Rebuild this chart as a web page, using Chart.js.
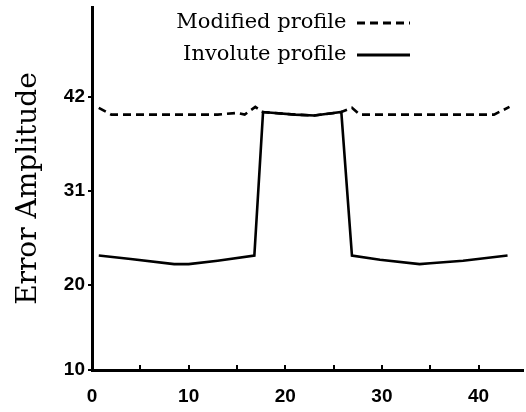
<!DOCTYPE html>
<html><head><meta charset="utf-8">
<script src="https://cdn.jsdelivr.net/npm/chart.js@4.4.1/dist/chart.umd.min.js"></script>
<style>html,body{margin:0;padding:0;background:#fff}canvas{display:block}</style>
</head><body>
<canvas id="c" width="526" height="412"></canvas>
<script>
// ---- data ----
const seriesNames = ['Modified profile', 'Involute profile'];
const modifiedX = [0.7, 2, 5, 9, 13, 15, 15.8, 16.9, 17.7, 21, 23, 25.8, 26.9, 27.7, 31, 35, 39, 41.6, 43.2];
const modifiedY = [40.7, 39.9, 39.9, 39.9, 39.9, 40.1, 39.9, 40.8, 40.2, 39.9, 39.8, 40.2, 40.7, 39.9, 39.9, 39.9, 39.9, 39.9, 40.8];
const involuteX = [0.7, 4, 8.5, 10, 13, 16.8, 17.7, 21, 23, 25.8, 26.9, 29.8, 33.9, 35, 38.4, 43];
const involuteY = [23.4, 23.0, 22.4, 22.4, 22.8, 23.4, 40.2, 39.9, 39.8, 40.2, 23.4, 22.9, 22.4, 22.5, 22.8, 23.4];
const xTickValues = [0, 5, 10, 15, 20, 25, 30, 35, 40];
const xTickLabels = ['0', '', '10', '', '20', '', '30', '', '40'];
const yTickValues = [10, 20, 31, 42];
const yTickLabels = ['10', '20', '31', '42'];
const yTitle = 'Error Amplitude';

// ---- layout / style ----
const LEGEND_TOP = 1.5;
const LEGEND_BOX_RIGHT = 410;
const tickFont = { family: 'Liberation Sans', size: 19, weight: 'bold' };

const legendPlace = {
  id: 'legendPlace',
  afterLayout(chart) {
    const lg = chart.legend;
    if (!lg) return;
    const pad = lg.options.labels.padding;
    const dx = LEGEND_BOX_RIGHT - (lg.left + lg.width - pad);
    lg.left += dx; lg.right = lg.left + lg.width;
    lg.top = LEGEND_TOP; lg.bottom = lg.top + lg.height;
  }
};

const toPoints = (xs, ys) => xs.map((x, i) => ({ x: x, y: ys[i] }));

new Chart(document.getElementById('c'), {
  type: 'line',
  data: {
    datasets: [
      { label: seriesNames[0], data: toPoints(modifiedX, modifiedY), borderColor: '#000', backgroundColor: '#000',
        borderWidth: 2.6, borderDash: [8, 5], pointRadius: 0, tension: 0, fill: false },
      { label: seriesNames[1], data: toPoints(involuteX, involuteY), borderColor: '#000', backgroundColor: '#000',
        borderWidth: 2.6, pointRadius: 0, tension: 0, fill: false }
    ]
  },
  options: {
    responsive: false,
    animation: false,
    events: [],
    layout: { padding: { top: 7, right: 3, bottom: 0, left: 0 } },
    plugins: {
      tooltip: { enabled: false },
      legend: {
        position: 'chartArea',
        align: 'start',
        rtl: true,
        textDirection: 'ltr',
        labels: {
          usePointStyle: true, pointStyle: 'line', pointStyleWidth: 53,
          padding: 11, color: '#000',
          font: { family: 'DejaVu Serif', size: 21 },
          generateLabels: chart => Chart.defaults.plugins.legend.labels.generateLabels(chart).map(item => {
            const ds = chart.data.datasets[item.datasetIndex];
            item.lineDash = ds.borderDash || [];
            item.lineWidth = 3;
            item.strokeStyle = ds.borderColor;
            return item;
          })
        }
      }
    },
    scales: {
      x: {
        type: 'linear', min: 0, max: 44.6,
        afterBuildTicks: s => { s.ticks = xTickValues.map(v => ({ value: v })); },
        afterFit: s => { s.height = 42; },
        ticks: { autoSkip: false, maxRotation: 0, minRotation: 0, padding: 20, color: '#000', font: tickFont,
                 callback: (v, i) => xTickLabels[i] },
        grid: { drawOnChartArea: false, drawTicks: true, tickLength: -5, color: '#000', lineWidth: 2 },
        border: { color: '#000', width: 3 }
      },
      y: {
        type: 'linear', min: 10, max: 52.5,
        afterBuildTicks: s => { s.ticks = yTickValues.map(v => ({ value: v })); },
        afterFit: s => { s.width = 92; s.paddingTop = 0; s.paddingBottom = 0; },
        ticks: { autoSkip: false, padding: 3, color: '#000', font: tickFont,
                 callback: (v, i) => yTickLabels[i] },
        grid: { drawOnChartArea: false, drawTicks: true, tickLength: 4, color: '#000', lineWidth: 2 },
        border: { color: '#000', width: 3 },
        title: { display: true, text: yTitle, color: '#000', padding: { top: 12, bottom: 0 },
                 font: { family: 'DejaVu Serif', size: 28 } }
      }
    }
  },
  plugins: [legendPlace]
});
</script>
</body></html>
